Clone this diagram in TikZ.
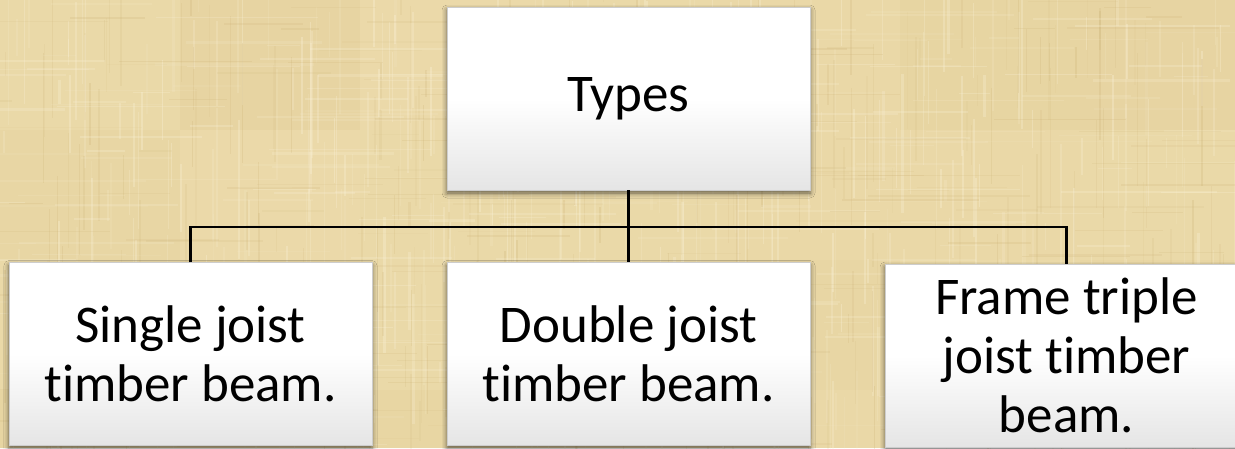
\documentclass[tikz,border=0pt]{standalone}
\usepackage{fontspec}
\setmainfont[Ligatures=NoCommon]{Carlito}
\usetikzlibrary{shadows.blur}
\definecolor{parch}{RGB}{234,216,166}
\definecolor{parchdark}{RGB}{200,172,110}
\definecolor{parchlight}{RGB}{250,241,214}
\definecolor{cardgray}{RGB}{229,229,229}
\definecolor{cardedge}{RGB}{205,205,205}
\tikzset{
  card/.style={rectangle, minimum width=363pt, minimum height=183pt, inner sep=0pt,
    align=center, font=\fontsize{53}{59}\selectfont, text=black,
    top color=white, bottom color=cardgray, middle color=white,
    draw=cardedge, line width=0.4pt,
    blur shadow={shadow xshift=0pt, shadow yshift=-3pt, shadow blur radius=5pt, shadow opacity=60}},
  link/.style={draw=black, line width=2.4pt}
}
\begin{document}
\begin{tikzpicture}[x=1pt,y=-1pt]
  \useasboundingbox (0,0) rectangle (1235,448);
  \clip (0,0) rectangle (1235,448);
  % woven parchment ground
  \fill[parch] (0,0) rectangle (1235,448);
  \pgfmathsetseed{42}
  \foreach \cx in {0,...,6}{
    \foreach \cy in {0,...,3}{
      \pgfmathsetmacro\op{0.03+0.05*rnd}
      \pgfmathsetmacro\tone{rnd<0.5 ? 1 : 0}
      \ifdim\tone pt>0.5pt
        \fill[parchlight,opacity=\op] (\cx*180,\cy*130) rectangle ++(180,130);
      \else
        \fill[parchdark,opacity=\op] (\cx*180,\cy*130) rectangle ++(180,130);
      \fi
    }
  }
  \foreach \i in {1,...,420}{
    \pgfmathsetmacro\xx{1235*rnd}
    \pgfmathsetmacro\yy{448*rnd-40}
    \pgfmathsetmacro\ll{20+120*rnd}
    \pgfmathsetmacro\ww{0.6+2.0*rnd}
    \pgfmathsetmacro\op{0.10+0.25*rnd}
    \fill[parchlight,opacity=\op] (\xx,\yy) rectangle ++(\ww,\ll);
  }
  \foreach \i in {1,...,260}{
    \pgfmathsetmacro\xx{1235*rnd}
    \pgfmathsetmacro\yy{448*rnd-40}
    \pgfmathsetmacro\ll{20+120*rnd}
    \pgfmathsetmacro\ww{0.6+1.6*rnd}
    \pgfmathsetmacro\op{0.06+0.16*rnd}
    \fill[parchdark,opacity=\op] (\xx,\yy) rectangle ++(\ww,\ll);
  }
  \foreach \i in {1,...,260}{
    \pgfmathsetmacro\xx{1235*rnd-60}
    \pgfmathsetmacro\yy{448*rnd}
    \pgfmathsetmacro\ll{30+140*rnd}
    \pgfmathsetmacro\ww{0.6+1.8*rnd}
    \pgfmathsetmacro\op{0.08+0.20*rnd}
    \fill[parchlight,opacity=\op] (\xx,\yy) rectangle ++(\ll,\ww);
  }
  \foreach \i in {1,...,150}{
    \pgfmathsetmacro\xx{1235*rnd-60}
    \pgfmathsetmacro\yy{448*rnd}
    \pgfmathsetmacro\ll{30+140*rnd}
    \pgfmathsetmacro\ww{0.6+1.4*rnd}
    \pgfmathsetmacro\op{0.05+0.14*rnd}
    \fill[parchdark,opacity=\op] (\xx,\yy) rectangle ++(\ll,\ww);
  }

  % hierarchy
  \node[card] (types)  at (628.5, 98.5)  {Types};
  \node[card] (single) at (190.5, 354)   {Single joist\\timber beam.};
  \node[card] (double) at (628.5, 354)   {Double joist\\timber beam.};
  \node[card] (frame)  at (1066.5,355.5) {Frame triple\\joist timber\\beam.};

  \coordinate (bus) at (628.5,227);
  \draw[link] (types.south) -- (bus);
  \draw[link] (bus) -- (double.north);
  \draw[link] (single.north) |- (bus) -| (frame.north);
\end{tikzpicture}
\end{document}
